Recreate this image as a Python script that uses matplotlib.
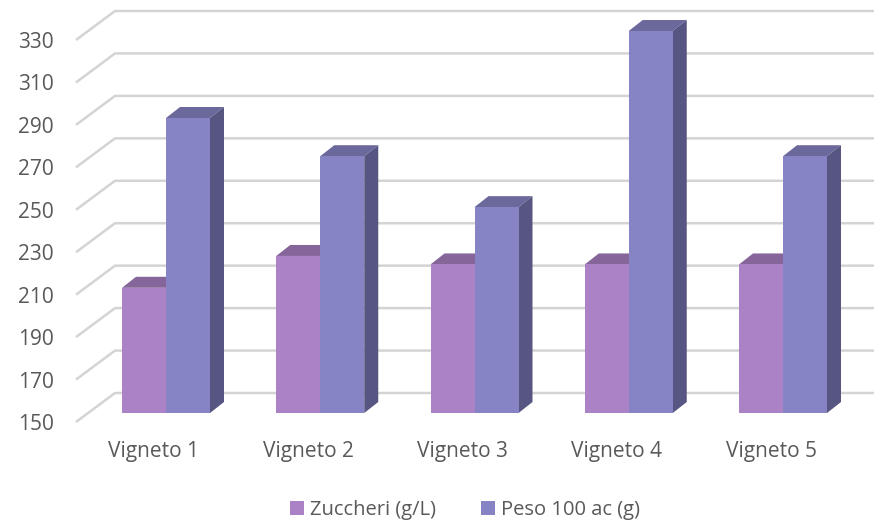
import matplotlib
matplotlib.use("Agg")
import numpy as np
from matplotlib import pyplot as plt
from matplotlib.patches import Polygon, Patch

plt.rcParams["font.family"] = ["Open Sans", "DejaVu Sans"]

categories = ["Vigneto 1", "Vigneto 2", "Vigneto 3", "Vigneto 4", "Vigneto 5"]
series_names = ["Zuccheri (g/L)", "Peso 100 ac (g)"]
zuccheri = [209, 224, 220, 220, 220]
peso = [289, 271, 247, 330, 271]
y_ticks = list(range(150, 331, 20))

# colours: front, top, side
face_colors = [("#ab82c5", "#86669a", "#6f5583"), ("#8784c5", "#6b689c", "#575582")]
grid_color = "#d4d4d4"
text_color = "#595959"

W, H = 874, 523
fig = plt.figure(figsize=(W / 100, H / 100), dpi=100)

# front plane of the 3d box, in pixels
left_px, right_px = 76, 835
base_px, top_px = 422, 40
ax = fig.add_axes([left_px / W, (H - base_px) / H, (right_px - left_px) / W, (base_px - top_px) / H])

cat_px = 154.25
x0 = -(154 - left_px) / cat_px
x1 = x0 + (right_px - left_px) / cat_px
ax.set_xlim(x0, x1)
ax.set_ylim(150, 330)
px_per_val = (base_px - top_px) / 180.0

# helpers: pixel offsets -> data units
def dx(px):
    return px / cat_px

def dy(px):
    return px / px_per_val

wall_dx, wall_dy = dx(39), dy(29)       # back wall shift
front_dx, front_dy = dx(12), dy(9)      # bar front face behind front plane
depth_dx, depth_dy = dx(14), dy(11)     # bar depth
bar_w = dx(44)

# back wall gridlines + side diagonals
for v in y_ticks:
    ax.plot([x0, x0 + wall_dx, x1 + wall_dx], [v, v + wall_dy, v + wall_dy],
            color=grid_color, lw=1.8, clip_on=False, zorder=1, solid_capstyle="butt")

x = np.arange(len(categories))
for s, vals in enumerate([zuccheri, peso]):
    front, top, side = face_colors[s]
    lefts = x + front_dx - bar_w + s * bar_w
    bottom = 150 + front_dy
    ax.bar(lefts, np.array(vals) - 150, width=bar_w, bottom=bottom, align="edge",
           color=front, edgecolor="none", zorder=3 + s * 2, clip_on=False)
    for xl, v in zip(lefts, vals):
        yt = v + front_dy
        xr = xl + bar_w
        ax.add_patch(Polygon([(xl, yt), (xr, yt), (xr + depth_dx, yt + depth_dy), (xl + depth_dx, yt + depth_dy)],
                             closed=True, facecolor=top, edgecolor="none", zorder=2 + s * 2, clip_on=False))
        ax.add_patch(Polygon([(xr, bottom), (xr, yt), (xr + depth_dx, yt + depth_dy), (xr + depth_dx, bottom + depth_dy)],
                             closed=True, facecolor=side, edgecolor="none", zorder=2 + s * 2, clip_on=False))

ax.set_yticks(y_ticks)
ax.set_yticklabels([str(t) for t in y_ticks])
ax.set_xticks(x)
ax.set_xticklabels(categories)
ax.tick_params(axis="y", length=0, pad=16, labelsize=15, labelcolor=text_color)
ax.tick_params(axis="x", length=0, pad=14, labelsize=15, labelcolor=text_color)
for sp in ax.spines.values():
    sp.set_visible(False)
ax.patch.set_visible(False)

handles = [Patch(facecolor=face_colors[i][0], edgecolor="none", label=series_names[i]) for i in range(2)]
fig.legend(handles=handles, loc="center", bbox_to_anchor=(465 / W, (H - 510) / H), ncol=2, frameon=False,
           fontsize=14.5, labelcolor=text_color, handlelength=0.7, handleheight=0.7,
           handletextpad=0.3, columnspacing=2.2)

fig.savefig("out.png", dpi=100)
